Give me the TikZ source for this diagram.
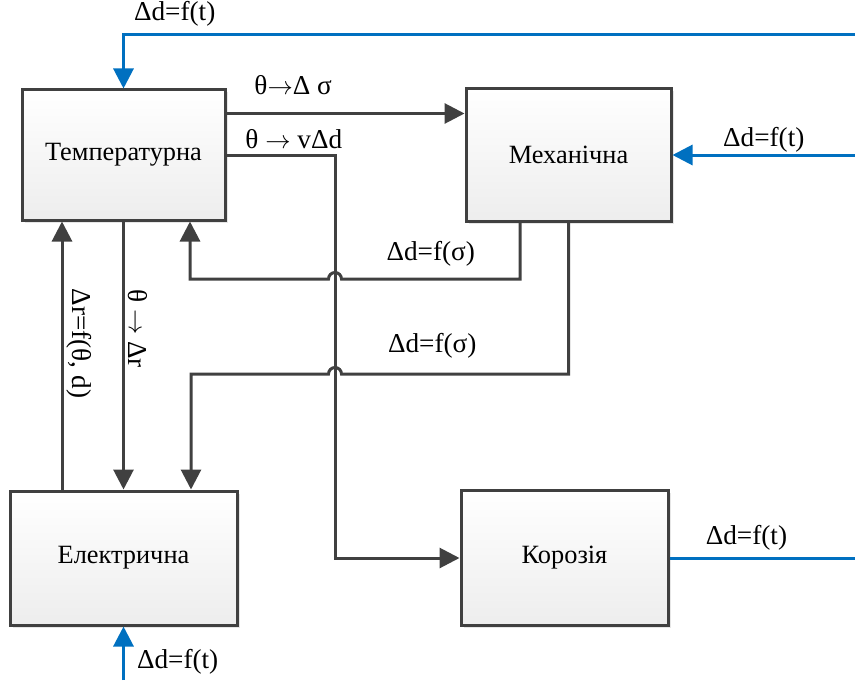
\documentclass[tikz,border=0pt]{standalone}
\usepackage{fontspec}
\setmainfont{Liberation Serif}
\usepackage{xcolor}
\usepackage{tikz}
\usetikzlibrary{arrows.meta,positioning,shadows}
\definecolor{blueline}{HTML}{0070C0}

\begin{document}
\begin{tikzpicture}[
  node distance=4.76cm,
  box/.style={draw=black!75, line width=0.06cm, top color=white, bottom color=black!7, inner sep=0pt, font=\fontsize{15}{18}\selectfont, drop shadow={opacity=0.2, shadow xshift=0.05cm, shadow yshift=-0.05cm}},
  arr/.style={-{Triangle[length=4mm, width=4mm]}, line width=0.06cm, draw=black!75},
  flow/.style={line width=0.06cm, draw=blueline},
  flowarr/.style={flow, -{Triangle[length=4mm, width=4mm]}},
  lbl/.style={font=\fontsize{15.5}{18}\selectfont, inner sep=2pt},
  vlbl/.style={lbl, rotate=-90, anchor=south}
]
\useasboundingbox (0,0) rectangle (17.1,-13.6);
\node[box, minimum width=4.06cm, minimum height=2.6cm] (temp) at (2.47,-3.1) {Температурна};
\node[box, minimum width=4.1cm, minimum height=2.64cm, right=of temp] (mech) {Механічна};
\node[box, minimum width=4.54cm, minimum height=2.68cm, below=5.36cm of temp] (elec) {Електрична};
\node[box, minimum width=4.14cm, minimum height=2.7cm, right=4.42cm of elec] (koroz) {Корозія};

% helper points
\coordinate (bus) at (6.7,0);
\coordinate (edge) at (17.1,0);
\coordinate (floor) at (0,-13.6);
\coordinate (top) at (17.1,-0.7);
\coordinate (ts) at ([yshift=-0.5cm]temp.north east);
\coordinate (t1) at ([xshift=1.33cm]temp.south);
\coordinate (m1) at ([xshift=-0.97cm]mech.south);
\coordinate (e1) at ([xshift=1.35cm]elec.north);
\coordinate (e2) at ([xshift=-1.23cm]elec.north);

% internal links
\draw[arr] (ts) -- node[lbl, above=0.27cm, pos=0.28] {θ$\to$Δ σ} (ts -| mech.west);
\draw[arr] (temp.east) -- node[lbl, above=0.03cm, pos=0.62] {θ $\to$ vΔd} (temp.east -| bus) -- (bus |- koroz.west) -- (koroz.west);
\draw[arr] (m1) |- node[lbl, above=0.15cm, pos=0.75] {Δd=f(σ)} (6.83,-5.58) arc[start angle=0, end angle=180, radius=0.13cm] -| (t1);
\draw[arr] (mech.south) |- node[lbl, above=0.21cm, pos=0.8] {Δd=f(σ)} (6.83,-7.48) arc[start angle=0, end angle=180, radius=0.13cm] -| (e1);
\draw[arr] (e2) -- node[vlbl, pos=0.545] {Δr=f(θ, d)} (e2 |- temp.south);
\draw[arr] (temp.south) -- node[vlbl, pos=0.4] {θ $\to$ Δr} (temp.south |- elec.north);

% outside influences
\draw[flowarr] (top) -| node[lbl, above=0.07cm, pos=0.465] {Δd=f(t)} (temp.north);
\draw[flowarr] (mech.east -| edge) -- node[lbl, above, inner sep=0.5pt, pos=0.5] {Δd=f(t)} (mech.east);
\draw[flow] (koroz.east) -- node[lbl, above=0.05cm, pos=0.415] {Δd=f(t)} (koroz.east -| edge);
\draw[flowarr] (elec.south |- floor) -- node[lbl, right=0.17cm, pos=0.34] {Δd=f(t)} (elec.south);
\end{tikzpicture}
\end{document}
